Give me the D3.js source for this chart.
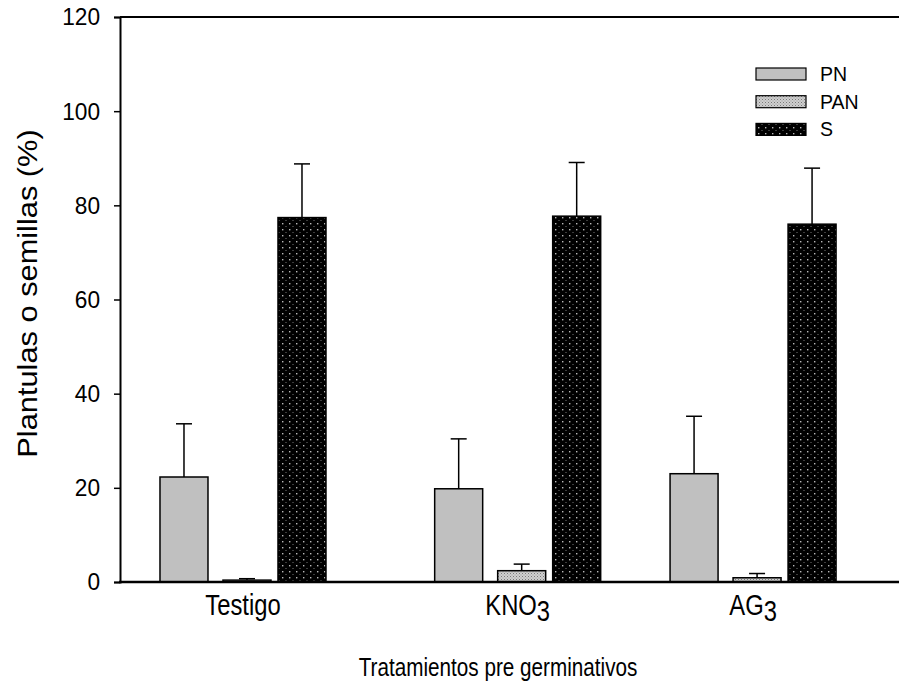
<!DOCTYPE html>
<html lang="es">
<head>
  <meta charset="UTF-8">
  <title>Plantulas o semillas</title>
  <script src="https://d3js.org/d3.v7.min.js"></script>
  <style>
    body { margin: 0; padding: 0; background: #fff; }
    svg { display: block; font-family: "Liberation Sans", Arial, sans-serif; }
    text { fill: #000; }
  </style>
</head>
<body>
  <svg id="chart"></svg>
  <script>
    // treatments and their spot on the category axis (as in the original x column)
    const categories = ['Testigo', 'KNO3', 'AG3'];
    const catPos = [0, 1.167, 2.167];
    const series = ['PN', 'PAN', 'S'];

    const valPN  = [22.3, 19.8, 23.0];
    const valPAN = [0.4, 2.4, 0.9];
    const valS   = [77.4, 77.7, 76.0];

    const errPN  = [11.3, 10.6, 12.2];
    const errPAN = [0.3, 1.4, 0.9];
    const errS   = [11.4, 11.4, 11.9];

    const yTicks = [0, 20, 40, 60, 80, 100, 120];

    const width = 899, height = 687;
    const m = { top: 17, right: 0, bottom: 105, left: 120 };

    const svg = d3.select('#chart').attr('width', width).attr('height', height);

    const defs = svg.append('defs');
    // fine stipple for PAN
    const p1 = defs.append('pattern').attr('id', 'patPAN')
      .attr('patternUnits', 'userSpaceOnUse').attr('width', 3).attr('height', 3);
    p1.append('rect').attr('width', 3).attr('height', 3).attr('fill', '#cfcfcf');
    p1.append('rect').attr('width', 1).attr('height', 1).attr('fill', '#7a7a7a');
    p1.append('rect').attr('x', 1.5).attr('y', 1.5).attr('width', 1).attr('height', 1).attr('fill', '#989898');
    // black with light dots for S
    const p2 = defs.append('pattern').attr('id', 'patS')
      .attr('patternUnits', 'userSpaceOnUse').attr('width', 7).attr('height', 6);
    p2.append('rect').attr('width', 7).attr('height', 6).attr('fill', '#000');
    p2.append('rect').attr('x', 2).attr('y', 1).attr('width', 1.4).attr('height', 1.4).attr('fill', '#b8b8b8');
    p2.append('rect').attr('x', 5.5).attr('y', 4).attr('width', 1).attr('height', 1).attr('fill', '#777');

    const fills = { PN: '#c0c0c0', PAN: 'url(#patPAN)', S: 'url(#patS)' };

    const x = d3.scaleLinear().domain([-0.5225, 2.787]).range([m.left, width - m.right]);
    const y = d3.scaleLinear().domain([0, 120]).range([height - m.bottom, m.top]);

    const barW = 48;
    const offs = { PN: -83, PAN: -20, S: 35 };

    const rows = [];
    categories.forEach((c, i) => {
      rows.push({ cat: i, s: 'PN', v: valPN[i], e: errPN[i] });
      rows.push({ cat: i, s: 'PAN', v: valPAN[i], e: errPAN[i] });
      rows.push({ cat: i, s: 'S', v: valS[i], e: errS[i] });
    });

    // error bars (upper only)
    const eb = svg.append('g').attr('stroke', '#000').attr('stroke-width', 1.5);
    rows.forEach(d => {
      const cx = x(catPos[d.cat]) + offs[d.s] + barW / 2;
      eb.append('line').attr('x1', cx).attr('x2', cx).attr('y1', y(d.v)).attr('y2', y(d.v + d.e));
      eb.append('line').attr('x1', cx - 8).attr('x2', cx + 8).attr('y1', y(d.v + d.e)).attr('y2', y(d.v + d.e));
    });

    svg.append('g').selectAll('rect').data(rows).join('rect')
      .attr('x', d => x(catPos[d.cat]) + offs[d.s])
      .attr('y', d => y(d.v))
      .attr('width', barW)
      .attr('height', d => y(0) - y(d.v))
      .attr('fill', d => fills[d.s])
      .attr('stroke', '#000')
      .attr('stroke-width', 1.5);

    // y axis
    const yAxis = svg.append('g').attr('transform', `translate(${m.left},0)`)
      .call(d3.axisLeft(y).tickValues(yTicks).tickSize(6).tickPadding(14));
    yAxis.attr('font-family', null).attr('font-size', null);
    yAxis.select('.domain').attr('stroke-width', 2);
    yAxis.selectAll('.tick line').attr('stroke-width', 1.5);
    yAxis.selectAll('.tick text')
      .style('font-size', '22.7px')
      .attr('transform', 'scale(1,1.09)');

    // top frame line and baseline
    svg.append('line').attr('x1', m.left).attr('x2', width).attr('y1', y(120)).attr('y2', y(120))
      .attr('stroke', '#000').attr('stroke-width', 2);
    svg.append('line').attr('x1', m.left - 1).attr('x2', width).attr('y1', y(0)).attr('y2', y(0))
      .attr('stroke', '#000').attr('stroke-width', 2.5);

    // category labels with subscripts
    categories.forEach((c, i) => {
      const g = svg.append('g')
        .attr('transform', `translate(${x(catPos[i])},${y(0) + 33}) scale(1,1.21)`);
      const t = g.append('text').attr('text-anchor', 'middle').style('font-size', '23.8px');
      const mm = c.match(/^(.*?)(\d*)$/);
      t.append('tspan').text(mm[1]);
      if (mm[2]) t.append('tspan').attr('dy', 5).text(mm[2]);
    });

    svg.append('g').attr('transform', 'translate(498,676) scale(1,1.2)')
      .append('text').attr('text-anchor', 'middle').style('font-size', '20.7px')
      .text('Tratamientos pre germinativos');

    svg.append('text')
      .attr('transform', `translate(37,${(y(0) + y(120)) / 2 - 6}) rotate(-90) scale(1.08,1)`)
      .attr('text-anchor', 'middle').style('font-size', '28.5px')
      .text('Plantulas o semillas (%)');

    // legend
    const lg = svg.append('g');
    series.forEach((s, i) => {
      const ly = 68 + i * 27.7;
      lg.append('rect').attr('x', 756).attr('y', ly).attr('width', 50).attr('height', 12)
        .attr('fill', fills[s]).attr('stroke', '#000').attr('stroke-width', 1.2);
      lg.append('text').attr('x', 820).attr('y', ly + 13).style('font-size', '19.5px').text(s);
    });
  </script>
</body>
</html>
